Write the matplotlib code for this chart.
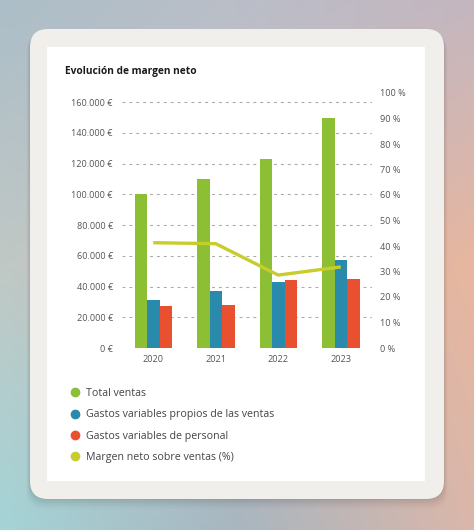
import numpy as np
import matplotlib
matplotlib.use("Agg")
import matplotlib.pyplot as plt
from matplotlib.patches import FancyBboxPatch, Rectangle
from matplotlib.lines import Line2D
from matplotlib.ticker import FuncFormatter, FixedLocator

# ---------------- data ----------------
title = "Evolución de margen neto"
years = ["2020", "2021", "2022", "2023"]
total_ventas = [100000, 110000, 123000, 150000]
gastos_ventas = [31000, 37000, 43000, 57500]
gastos_personal = [27500, 28000, 44500, 45000]
margen_pct = [41.3, 40.9, 28.6, 31.8]
series_names = ["Total ventas",
                "Gastos variables propios de las ventas",
                "Gastos variables de personal",
                "Margen neto sobre ventas (%)"]
left_ticks = [0, 20000, 40000, 60000, 80000, 100000, 120000, 140000, 160000]
right_ticks = [0, 10, 20, 30, 40, 50, 60, 70, 80, 90, 100]

# ---------------- style ----------------
C_GREEN = "#8dbf34"
C_BLUE = "#2a8aab"
C_RED = "#e8502f"
C_LINE = "#c9cd2c"
C_TICK = "#555555"
C_GRID = "#ababab"
FONT = ["Open Sans", "DejaVu Sans"]
plt.rcParams["font.family"] = FONT

W, H, DPI = 474, 530, 100
fig = plt.figure(figsize=(W / DPI, H / DPI), dpi=DPI)

# background axes in pixel coordinates
bg = fig.add_axes([0, 0, 1, 1], zorder=0)
bg.set_xlim(0, W)
bg.set_ylim(H, 0)
bg.axis("off")

# gradient background
grid_cols = np.array([
    [[172, 190, 200], [186, 190, 200], [196, 182, 192]],
    [[192, 200, 197], [200, 190, 190], [232, 182, 158]],
    [[164, 212, 215], [168, 182, 192], [218, 182, 170]],
], dtype=float) / 255.0
ny, nx = 200, 180
yy = np.linspace(0, 2, ny)
xx = np.linspace(0, 2, nx)
img = np.zeros((ny, nx, 3))
for i, yv in enumerate(yy):
    i0 = min(int(yv), 1); fy = yv - i0
    row = grid_cols[i0] * (1 - fy) + grid_cols[i0 + 1] * fy
    for j, xv in enumerate(xx):
        j0 = min(int(xv), 1); fx = xv - j0
        img[i, j] = row[j0] * (1 - fx) + row[j0 + 1] * fx
bg.imshow(img, extent=(0, W, H, 0), aspect="auto", zorder=0, interpolation="bilinear")

# card shadow
for k, a in enumerate([0.05, 0.04, 0.03, 0.02]):
    s = 1 + k * 2
    bg.add_patch(FancyBboxPatch((30 - s * 0.5, 29 + s * 0.8), 414 + s, 470 + s * 0.6,
                                boxstyle="round,pad=0,rounding_size=18",
                                fc="black", ec="none", alpha=a, zorder=1))
# card
bg.add_patch(FancyBboxPatch((30, 29), 414, 470, boxstyle="round,pad=0,rounding_size=18",
                            fc="#f0efeb", ec="none", zorder=2))
bg.add_patch(Rectangle((47, 47), 378, 434, fc="white", ec="none", zorder=3))

bg.text(65, 74, title, fontsize=7.3, fontweight="bold", color="#1a1a1a",
        ha="left", va="baseline", zorder=4)

# ---------------- chart ----------------
ax = fig.add_axes([122 / W, 1 - 348 / H, 250 / W, 255 / H], zorder=2)
ax.patch.set_alpha(0)
x = np.arange(len(years))
bw = 0.2
ax.bar(x - bw, total_ventas, bw, color=C_GREEN, zorder=2)
ax.bar(x, gastos_ventas, bw, color=C_BLUE, zorder=2)
ax.bar(x + bw, gastos_personal, bw, color=C_RED, zorder=2)
ax.set_xlim(-0.5, len(years) - 0.5)
ax.set_ylim(0, 166000)
ax.yaxis.set_major_locator(FixedLocator(left_ticks))
ax.yaxis.set_major_formatter(FuncFormatter(lambda v, p: f"{v:,.0f}".replace(",", ".") + " €"))
ax.set_xticks(x)
ax.set_xticklabels(years)
ax.yaxis.grid(True, linestyle=(0, (2.6, 3.6)), color=C_GRID, linewidth=0.8, zorder=0)
ax.set_axisbelow(True)
for s in ax.spines.values():
    s.set_visible(False)
ax.tick_params(axis="y", length=0, pad=6.5, labelsize=6.6, labelcolor=C_TICK)
ax.tick_params(axis="x", length=0, pad=5.0, labelsize=6.6, labelcolor=C_TICK)

ax2 = ax.twinx()
ax2.plot(x, margen_pct, color=C_LINE, linewidth=2.4, solid_capstyle="butt",
         solid_joinstyle="miter", zorder=3)
ax2.set_ylim(0, 100)
ax2.yaxis.set_major_locator(FixedLocator(right_ticks))
ax2.yaxis.set_major_formatter(FuncFormatter(lambda v, p: f"{v:.0f} %"))
for s in ax2.spines.values():
    s.set_visible(False)
ax2.tick_params(axis="y", length=0, pad=5.8, labelsize=6.6, labelcolor=C_TICK)

# legend
handles = [Line2D([], [], marker="o", linestyle="", markersize=6.0, color=c)
           for c in [C_GREEN, C_BLUE, C_RED, C_LINE]]
fig.legend(handles, series_names, loc="upper left",
           bbox_to_anchor=(69.3 / W, 1 - 388 / H), frameon=False,
           fontsize=7.65, handlelength=1.0, handletextpad=0.58, labelspacing=0.97,
           borderpad=0, borderaxespad=0, labelcolor="#444444")

fig.savefig("out.png", dpi=DPI)
